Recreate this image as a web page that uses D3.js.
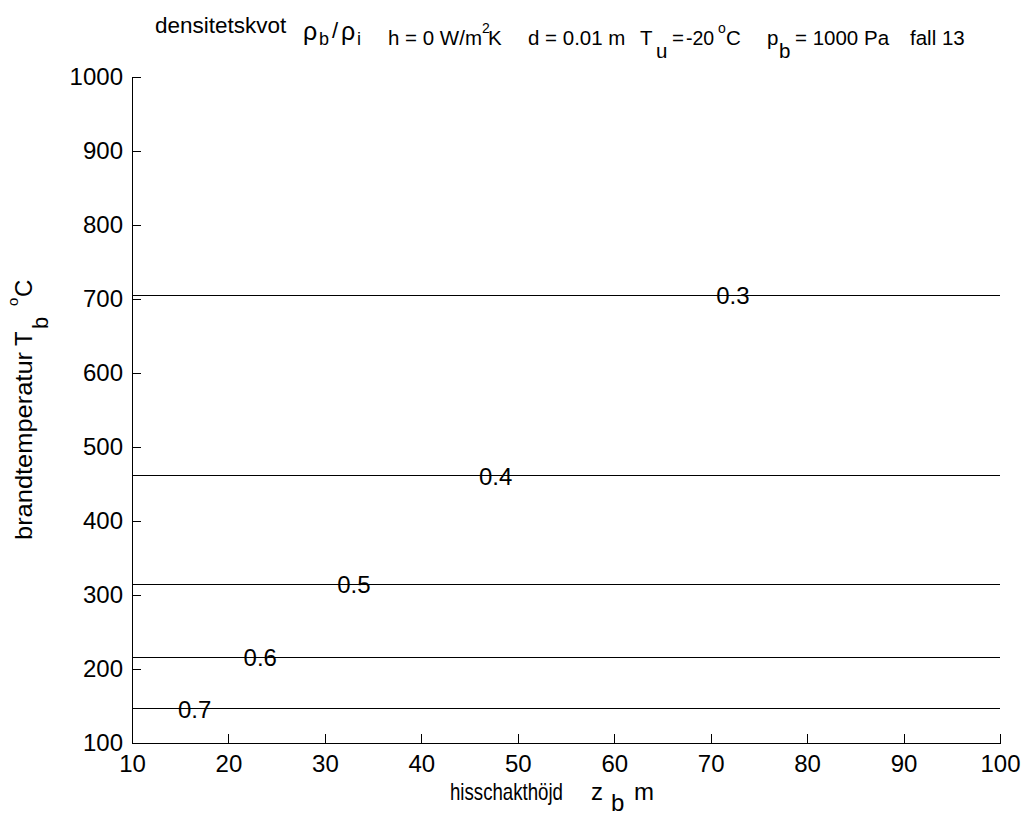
<!DOCTYPE html>
<html>
<head>
<meta charset="utf-8">
<script src="https://cdn.jsdelivr.net/npm/d3@7"></script>
<style>
  body { margin: 0; background: #fff; }
  svg { display: block; font-family: "Liberation Sans", Arial, sans-serif; }
</style>
</head>
<body>
<svg id="chart" width="1026" height="820"></svg>
<script>
// ---- data ----
const ratioLabels = ["0.3", "0.4", "0.5", "0.6", "0.7"];
const temperatures = [705, 461, 314, 216, 146];
const labelPositionsZ = [72.3, 47.7, 33.0, 23.3, 16.5];
const xTicks = [10, 20, 30, 40, 50, 60, 70, 80, 90, 100];
const yTicks = [100, 200, 300, 400, 500, 600, 700, 800, 900, 1000];
const xDomain = [10, 100];
const yDomain = [100, 1000];

// ---- layout ----
(function () {
const svg = d3.select("#chart");
const mLeft = 132, mRight = 1000, mTop = 77, mBottom = 743;
const x = d3.scaleLinear().domain(xDomain).range([mLeft, mRight]);
const y = d3.scaleLinear().domain(yDomain).range([mBottom, mTop]);

// contour lines
const line = d3.line().x(d => x(d[0])).y(d => y(d[1]));
svg.append("g").selectAll("path")
  .data(temperatures)
  .join("path")
  .attr("d", t => line([[xDomain[0], t], [xDomain[1], t]]))
  .attr("fill", "none")
  .attr("stroke", "#000")
  .attr("stroke-width", 1)
  .attr("shape-rendering", "crispEdges");

// contour labels
svg.append("g").selectAll("text")
  .data(ratioLabels)
  .join("text")
  .attr("x", (d, i) => x(labelPositionsZ[i]))
  .attr("y", (d, i) => y(temperatures[i]))
  .attr("dy", "0.36em")
  .attr("text-anchor", "middle")
  .attr("font-size", 24)
  .attr("fill", "#000")
  .text(d => d);

// axes
const xAxis = d3.axisBottom(x).tickValues(xTicks).tickSizeInner(-9).tickSizeOuter(0).tickPadding(12).tickFormat(d3.format("d"));
const yAxis = d3.axisLeft(y).tickValues(yTicks).tickSizeInner(-9).tickSizeOuter(0).tickPadding(9).tickFormat(d3.format("d"));

const gx = svg.append("g").attr("transform", `translate(0,${mBottom})`).call(xAxis);
const gy = svg.append("g").attr("transform", `translate(${mLeft},0)`).call(yAxis);
[gx, gy].forEach(g => {
  g.selectAll("text").attr("font-size", 24).attr("fill", "#000").attr("font-family", "Liberation Sans, Arial, sans-serif");
  g.selectAll("line").attr("stroke", "#000").attr("shape-rendering", "crispEdges");
  g.select(".domain").attr("stroke", "#000").attr("shape-rendering", "crispEdges");
});

// ---- title ----
const title = svg.append("g").attr("fill", "#000");
function put(g, txt, px, py, fs) {
  return g.append("text").attr("x", px).attr("y", py).attr("font-size", fs).text(txt);
}
put(title, "densitetskvot", 155, 33, 22.5);
put(title, "ρ", 303, 40, 25);
put(title, "b", 319, 45, 18);
put(title, "/", 332, 38, 22);
put(title, "ρ", 341, 40, 25);
put(title, "i", 357, 45, 18);

put(title, "h = 0 W/m", 388, 45, 20.5);
put(title, "2", 482, 33, 14);
put(title, "K", 488, 45, 20.5);
put(title, "d = 0.01 m", 528, 45, 20.5);
put(title, "T", 640, 45, 20.5);
put(title, "u", 656, 58, 20.5);
put(title, "=", 672, 45, 20.5);
put(title, "-20", 686, 45, 19.5);
put(title, "o", 718, 33, 14);
put(title, "C", 726, 45, 20.5);
put(title, "p", 767, 45, 20.5);
put(title, "b", 779, 58, 20.5);
put(title, "= 1000 Pa", 795, 45, 20.5);
put(title, "fall 13", 910, 45, 20.5);

// ---- x label (condensed glyphs like the reference) ----
const xl = svg.append("g").attr("fill", "#000");
const xg = xl.append("g");
const xt = xg.append("text").attr("x", 0).attr("y", 0).attr("font-size", 24).text("hisschakthöjd");
const natural = xt.node().getComputedTextLength() || 147;
xg.attr("transform", `translate(450,800) scale(${113 / natural},1)`);
put(xl, "z", 591, 800, 24);
put(xl, "b", 611, 811, 24);
put(xl, "m", 634, 800, 24);

// ---- y label ----
const yl = svg.append("g").attr("fill", "#000").attr("transform", "rotate(-90)");
yl.append("text").attr("x", -540).attr("y", 32).attr("font-size", 24)
  .attr("textLength", 188).attr("lengthAdjust", "spacingAndGlyphs").text("brandtemperatur");
put(yl, "T", -346, 32, 24);
put(yl, "b", -329, 48, 22);
put(yl, "o", -306, 18, 15);
put(yl, "C", -297, 32, 24);
})();
</script>
</body>
</html>
